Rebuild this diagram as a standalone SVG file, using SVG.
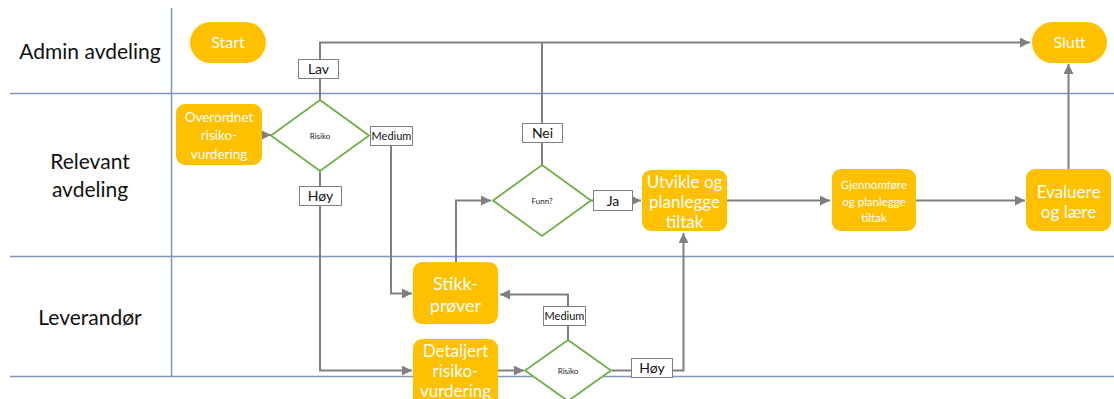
<svg xmlns="http://www.w3.org/2000/svg" width="1114" height="399" viewBox="0 0 1114 399">
<style>
.lane{stroke:#7f96bf;stroke-width:1.5;fill:none}
.lt{font-family:Lato,"Open Sans",sans-serif;font-size:21px;fill:#111;text-anchor:middle}
.node{fill:#FFC000}
.nt{font-family:Lato,"Open Sans",sans-serif;fill:#fff;text-anchor:middle}
.dia{fill:#fff;stroke:#70AD47;stroke-width:1.8}
.dt{font-family:Lato,"Open Sans",sans-serif;font-size:8px;fill:#222;text-anchor:middle}
.lbl{fill:#fff;stroke:#7f7f7f;stroke-width:1}
.lbt{font-family:Lato,"Open Sans",sans-serif;fill:#111;text-anchor:middle}
.c{fill:none;stroke:#808080;stroke-width:2}
</style>
<defs>
<marker id="ah" viewBox="0 0 10 10" refX="10" refY="5" markerWidth="5" markerHeight="5" orient="auto" markerUnits="strokeWidth">
<path d="M0,0 L10,5 L0,10 z" fill="#808080"/>
</marker>
</defs>
<rect width="1114" height="399" fill="#fff"/>
<g id="lanes">
<line class="lane" x1="10" y1="93.500" x2="1114" y2="93.500"/>
<line class="lane" x1="10" y1="256.500" x2="1114" y2="256.500"/>
<line class="lane" x1="10" y1="376.500" x2="1114" y2="376.500"/>
<line class="lane" x1="171.500" y1="8" x2="171.500" y2="376"/>
<text class="lt" x="90" y="59">Admin avdeling</text>
<text class="lt" x="90" y="169">Relevant</text>
<text class="lt" x="90" y="197">avdeling</text>
<text class="lt" x="90" y="325">Leverandør</text>
</g>
<g id="connectors">
<path class="c" d="M320,59 V42.500 H1030" marker-end="url(#ah)"/>
<path class="c" d="M320,100 V78"/>
<path class="c" d="M542,165 V142"/>
<path class="c" d="M542,123 V42.500"/>
<path class="c" d="M262,135 H271" marker-end="url(#ah)"/>
<path class="c" d="M391,145 V293.500 H412" marker-end="url(#ah)"/>
<path class="c" d="M320,171 V186"/>
<path class="c" d="M320,205 V370.500 H412" marker-end="url(#ah)"/>
<path class="c" d="M498,370.500 H524" marker-end="url(#ah)"/>
<path class="c" d="M568,340 V325"/>
<path class="c" d="M568,306 V294.500 H500" marker-end="url(#ah)"/>
<path class="c" d="M612,370.500 H632"/>
<path class="c" d="M672,370.500 H683.500 V233" marker-end="url(#ah)"/>
<path class="c" d="M456,262 V200.500 H491" marker-end="url(#ah)"/>
<path class="c" d="M591,200.500 H593"/>
<path class="c" d="M633,200.500 H641" marker-end="url(#ah)"/>
<path class="c" d="M727,200.500 H830" marker-end="url(#ah)"/>
<path class="c" d="M916,200.500 H1025" marker-end="url(#ah)"/>
<path class="c" d="M1068.500,169 V64" marker-end="url(#ah)"/>
</g>
<g id="labels">
<g id="lbl-lav"><rect class="lbl" x="298.500" y="59.500" width="40" height="19"/><text class="lbt" x="318.500" y="74" font-size="14">Lav</text></g>
<g id="lbl-medium1"><rect class="lbl" x="370.500" y="126.500" width="42" height="19"/><text class="lbt" x="391.500" y="140" font-size="11">Medium</text></g>
<g id="lbl-hoy1"><rect class="lbl" x="299.500" y="186.500" width="42" height="19"/><text class="lbt" x="320.500" y="201" font-size="14">Høy</text></g>
<g id="lbl-nei"><rect class="lbl" x="522.500" y="123.500" width="40" height="19"/><text class="lbt" x="542.500" y="138" font-size="14">Nei</text></g>
<g id="lbl-ja"><rect class="lbl" x="593.500" y="190.500" width="39" height="20"/><text class="lbt" x="613" y="205.500" font-size="14">Ja</text></g>
<g id="lbl-medium2"><rect class="lbl" x="543.500" y="306.500" width="42" height="19"/><text class="lbt" x="564.500" y="320" font-size="11">Medium</text></g>
<g id="lbl-hoy2"><rect class="lbl" x="631.500" y="358.500" width="41" height="19"/><text class="lbt" x="652" y="373" font-size="14">Høy</text></g>
</g>
<g id="start"><rect class="node" x="190" y="22" width="76" height="41" rx="20.500"/><text class="nt" x="228" y="48" font-size="16">Start</text></g>
<g id="slutt"><rect class="node" x="1032" y="22" width="75" height="41" rx="20.500"/><text class="nt" x="1069.500" y="48" font-size="16">Slutt</text></g>
<g id="overordnet"><rect class="node" x="176" y="104" width="86" height="61" rx="9"/><text class="nt" font-size="13.500"><tspan x="219" y="122">Overordnet</tspan><tspan x="219" y="140">risiko-</tspan><tspan x="219" y="159">vurdering</tspan></text></g>
<g id="risiko1"><polygon class="dia" points="320,100 369,135.500 320,171 271,135.500"/><text class="dt" x="320" y="138.500">Risiko</text></g>
<g id="funn"><polygon class="dia" points="542,165 591,200.500 542,236 493,200.500"/><text class="dt" x="542" y="203.500">Funn?</text></g>
<g id="stikk"><rect class="node" x="413" y="262" width="85" height="62" rx="9"/><text class="nt" font-size="18"><tspan x="455.500" y="290">Stikk-</tspan><tspan x="455.500" y="312">prøver</tspan></text></g>
<g id="detaljert"><rect class="node" x="413" y="339" width="85" height="70" rx="9"/><text class="nt" font-size="17"><tspan x="455.500" y="357">Detaljert</tspan><tspan x="455.500" y="377">risiko-</tspan><tspan x="455.500" y="397">vurdering</tspan></text></g>
<g id="risiko2"><polygon class="dia" points="568,340 611,370.500 568,401 525,370.500"/><text class="dt" x="568" y="373.500">Risiko</text></g>
<g id="utvikle"><rect class="node" x="642" y="170" width="85" height="61" rx="9"/><text class="nt" font-size="17"><tspan x="684.500" y="188">Utvikle og</tspan><tspan x="684.500" y="208">planlegge</tspan><tspan x="684.500" y="228">tiltak</tspan></text></g>
<g id="gjennomfore"><rect class="node" x="832" y="169" width="84" height="62" rx="9"/><text class="nt" font-size="11.500"><tspan x="874" y="189">Gjennomføre</tspan><tspan x="874" y="206">og planlegge</tspan><tspan x="874" y="222">tiltak</tspan></text></g>
<g id="evaluere"><rect class="node" x="1026" y="169" width="85" height="62" rx="9"/><text class="nt" font-size="17"><tspan x="1068.500" y="198">Evaluere</tspan><tspan x="1068.500" y="218">og lære</tspan></text></g>
</svg>
